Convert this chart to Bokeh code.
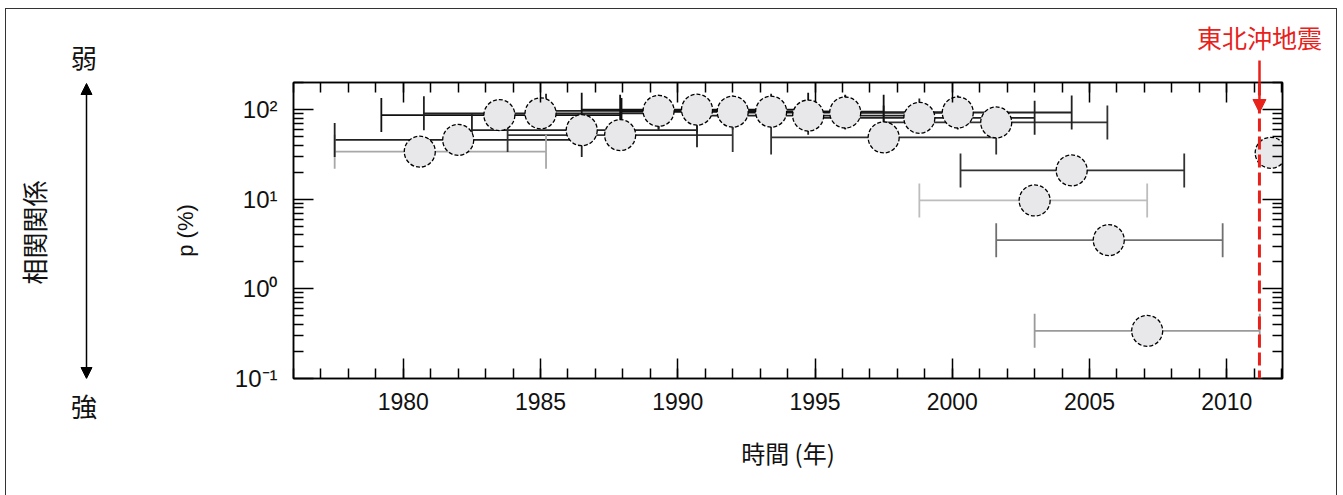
import math
from bokeh.plotting import figure
from bokeh.layouts import row
from bokeh.core.properties import value
from bokeh.models import (FixedTicker, LinearAxis, LogAxis, Span, Arrow,
                          NormalHead, CustomJSTickFormatter, ColumnDataSource,
                          Range1d, InlineStyleSheet)
from bokeh.embed import file_html
from bokeh.resources import INLINE

# ---------------- data ----------------
years = [1980.6, 1982.0, 1983.5, 1985.0, 1986.5, 1987.9, 1989.3, 1990.7, 1992.0,
         1993.4, 1994.75, 1996.1, 1997.5, 1998.8, 2000.2, 2001.6, 2003.0,
         2004.35, 2005.7, 2007.1, 2011.6]
p_pct = [34, 46, 87, 91, 59, 52, 97, 100, 95, 95, 86, 93, 49, 81, 93, 72, 9.7,
         21, 3.5, 0.34, 33]
win_start = [1977.5, 1977.5, 1979.2, 1980.75, 1982.5, 1983.8, 1985.2, 1986.5,
             1987.9, 1989.3, 1990.7, 1992.0, 1993.4, 1994.75, 1996.1, 1997.5,
             1998.8, 2000.3, 2001.6, 2003.0, float("nan")]
win_end = [1985.2, 1986.5, 1987.95, 1989.3, 1990.7, 1992.0, 1993.4, 1994.75,
           1996.1, 1997.5, 1998.8, 2000.2, 2001.6, 2003.0, 2004.35, 2005.65,
           2007.1, 2008.45, 2009.85, 2011.2, float("nan")]
bar_colors = ["#a8a8a8", "#222222", "#111111", "#222222", "#222222", "#333333",
              "#222222", "#111111", "#111111", "#111111", "#222222", "#111111",
              "#333333", "#222222", "#222222", "#333333", "#bdbdbd", "#333333",
              "#707070", "#9a9a9a", "#999999"]

x_major = [1980, 1985, 1990, 1995, 2000, 2005, 2010]
x_minor = list(range(1976, 2013))
y_major = [0.1, 1, 10, 100]
y_major_labels = ["10\u207b\u00b9", "10\u2070", "10\u00b9", "10\u00b2"]
y_minor = [m * d for d in (0.1, 1, 10, 100) for m in range(2, 10)]

eq_year = 2011.19
eq_label = "東北沖地震"
x_title = "時間 (年)"
y_title = "p (%)"
side_title = "相関関係"
weak_label = "弱"
strong_label = "強"

X_RANGE = (1976.0, 2012.03)
Y_RANGE = (0.1, 201)
RED = "#e8211b"

SIDE_W = 167
TOTAL_W, TOTAL_H = 1343, 495
FRAME_LEFT, FRAME_TOP, FRAME_BOTTOM = 293, 82, 378

# ---------------- main figure ----------------
p = figure(width=TOTAL_W - SIDE_W, height=TOTAL_H, x_range=Range1d(*X_RANGE),
           y_range=Range1d(*Y_RANGE), y_axis_type="log",
           output_backend="svg", toolbar_location=None,
           min_border_left=FRAME_LEFT - SIDE_W, min_border_right=61,
           min_border_top=FRAME_TOP, min_border_bottom=TOTAL_H - FRAME_BOTTOM)
p.xgrid.visible = False
p.ygrid.visible = False
p.outline_line_color = "black"
p.outline_line_width = 1.5
p.background_fill_color = "white"
p.border_fill_color = "white"

xt = FixedTicker(ticks=x_major, minor_ticks=x_minor)
yt = FixedTicker(ticks=y_major, minor_ticks=y_minor)

def style_axis(ax):
    ax.axis_line_color = "black"
    ax.axis_line_width = 1.5
    ax.major_tick_in = 20
    ax.major_tick_out = 0
    ax.minor_tick_in = 10
    ax.minor_tick_out = 0
    ax.major_tick_line_color = "black"
    ax.minor_tick_line_color = "black"
    ax.major_tick_line_width = 1.5
    ax.minor_tick_line_width = 1.5

def blank_axis(ax):
    ax.formatter = CustomJSTickFormatter(code="return ''")
    ax.major_label_text_font_size = "0px"
    ax.major_label_standoff = 0

bx = p.xaxis[0]
style_axis(bx)
bx.ticker = xt
bx.major_label_overrides = {v: str(v) for v in x_major}
bx.major_label_text_font = "Liberation Sans"
bx.major_label_text_font_size = "23px"
bx.major_label_text_color = "#111111"
bx.major_label_standoff = 14
bx.axis_label = x_title
bx.axis_label_text_font = "Noto Sans CJK JP"
bx.axis_label_text_font_size = "24px"
bx.axis_label_text_font_style = "normal"
bx.axis_label_text_color = "#111111"
bx.axis_label_standoff = 22

ly = p.yaxis[0]
style_axis(ly)
ly.ticker = yt
ly.major_label_overrides = {v: s for v, s in zip(y_major, y_major_labels)}
ly.major_label_text_font = "Liberation Sans"
ly.major_label_text_font_size = "24px"
ly.major_label_text_color = "#111111"
ly.major_label_standoff = 16
ly.axis_label = y_title
ly.axis_label_text_font = "Liberation Sans"
ly.axis_label_text_font_size = "22px"
ly.axis_label_text_font_style = "normal"
ly.axis_label_text_color = "#111111"
ly.axis_label_standoff = 34

# top axis (ticks only, nearest the frame)
tx = LinearAxis(ticker=xt)
style_axis(tx)
blank_axis(tx)
p.add_layout(tx, "above")

# outer top axis: a single red tick at the earthquake, labelled
eqax = LinearAxis(ticker=FixedTicker(ticks=[eq_year], minor_ticks=[]))
eqax.major_label_overrides = {eq_year: eq_label}
eqax.axis_line_color = None
eqax.major_tick_in = 0
eqax.major_tick_out = 22
eqax.minor_tick_line_color = None
eqax.major_tick_line_color = RED
eqax.major_tick_line_width = 2.5
eqax.major_label_text_color = RED
eqax.major_label_text_font = "Noto Sans CJK JP"
eqax.major_label_text_font_size = "25px"
eqax.major_label_standoff = 6
p.add_layout(eqax, "above")

ry = LogAxis(ticker=yt)
style_axis(ry)
blank_axis(ry)
p.add_layout(ry, "right")

# ---------------- error bars ----------------
src = ColumnDataSource(dict(x=years, y=p_pct, x0=win_start, x1=win_end, c=bar_colors))
p.segment(x0="x0", y0="y", x1="x1", y1="y", line_color="c", line_width=1.8, source=src)
cap_src = ColumnDataSource(dict(x=win_start + win_end, y=p_pct + p_pct,
                                c=bar_colors + bar_colors))
p.scatter(x="x", y="y", marker="dash", angle=math.pi / 2, size=34,
          line_color="c", line_width=1.8, source=cap_src)

# ---------------- points ----------------
p.scatter(x="x", y="y", marker="circle", size=31, fill_color="#e8e8eb",
          line_color="black", line_dash="4 2", line_width=1.3, source=src)

# ---------------- earthquake marker ----------------
p.add_layout(Span(location=eq_year, dimension="height", line_color=RED,
                  line_width=3, line_dash="13 5"))
p.add_layout(Arrow(end=NormalHead(size=13, fill_color=RED, line_color=RED),
                   x_start=eq_year, y_start=Y_RANGE[1], x_end=eq_year, y_end=93,
                   line_color=RED, line_width=2.5))

# ---------------- left-side annotation panel ----------------
# its frame is aligned by the row with the main frame (82..378 px);
# y data units here equal page pixels from the top.
side = figure(width=SIDE_W, height=TOTAL_H, x_range=Range1d(0, SIDE_W),
              y_range=Range1d(FRAME_BOTTOM, FRAME_TOP), output_backend="svg",
              toolbar_location=None, x_axis_location=None, y_axis_location=None,
              min_border_left=0, min_border_right=0,
              min_border_top=FRAME_TOP, min_border_bottom=TOTAL_H - FRAME_BOTTOM)
side.xgrid.visible = False
side.ygrid.visible = False
side.outline_line_color = None
side.border_fill_color = "white"
side.background_fill_color = "white"

def label_axis(text, standoff):
    ax = LinearAxis(ticker=FixedTicker(ticks=[], minor_ticks=[]))
    ax.axis_line_color = None
    ax.major_tick_line_color = None
    ax.minor_tick_line_color = None
    ax.major_label_text_font_size = "0px"
    ax.major_label_standoff = 0
    ax.axis_label = text
    ax.axis_label_standoff = standoff
    ax.axis_label_text_font = "Noto Sans CJK JP"
    ax.axis_label_text_font_size = "26px"
    ax.axis_label_text_font_style = "normal"
    ax.axis_label_text_color = "#111111"
    return ax

side.add_layout(label_axis(weak_label, 8), "above")
side.add_layout(label_axis(strong_label, 8), "below")

side.add_layout(Arrow(start=NormalHead(size=11, fill_color="black", line_color="black"),
                      end=NormalHead(size=11, fill_color="black", line_color="black"),
                      x_start=86, y_start=378, x_end=86, y_end=83,
                      line_color="black", line_width=1.5))
side.text(x=[33], y=[232], text=[side_title], angle=math.pi / 2,
          text_align="center", text_baseline="middle",
          text_font=value("Noto Sans CJK JP"), text_font_size="26px",
          text_color="#111111")

frame_css = InlineStyleSheet(css="""
:host { position: relative; }
:host::after {
  content: ""; position: absolute; left: 5px; top: 8px;
  width: 1332px; height: 600px; border: 1px solid #333;
  box-sizing: border-box; pointer-events: none;
}
""")
layout = row(side, p, stylesheets=[frame_css])

open("out.html", "w").write(file_html(layout, INLINE))
